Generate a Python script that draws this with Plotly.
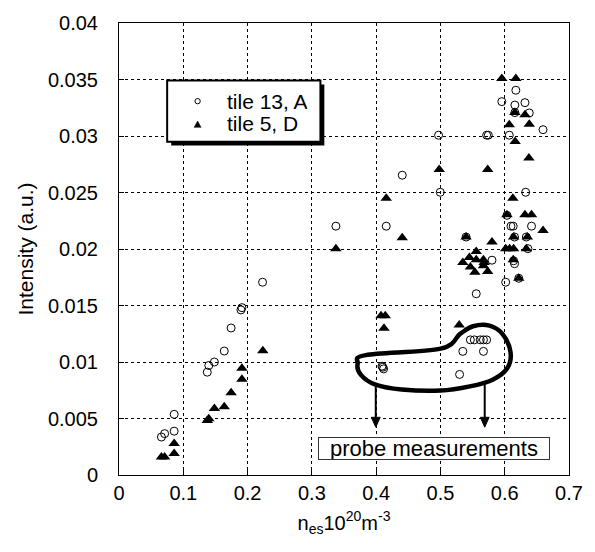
import plotly.graph_objects as go

# ---- data: tile 13, A (open circles) ----
tile13_x = [0.0858, 0.066, 0.071, 0.0858, 0.1373, 0.1397, 0.1484, 0.1637, 0.1744, 0.1897,
            0.1912, 0.2233, 0.3374, 0.4157, 0.4406, 0.4971, 0.4997, 0.5719, 0.5745, 0.5955,
            0.6173, 0.6158, 0.6315, 0.6382, 0.6071, 0.6596, 0.6326, 0.6132, 0.6097, 0.6417,
            0.6153, 0.6336, 0.6361, 0.6035, 0.5399, 0.5802, 0.6138, 0.6153, 0.6219, 0.6015,
            0.5557, 0.4091, 0.4116, 0.4104, 0.5466, 0.5527, 0.5619, 0.5669, 0.5719, 0.5348,
            0.5669, 0.5298, 0.6158]
tile13_y = [0.00537, 0.00336, 0.00366, 0.00388, 0.0091, 0.00969, 0.0100, 0.01097, 0.01301, 0.01461,
            0.01481, 0.01706, 0.02202, 0.02202, 0.02653, 0.03007, 0.02502, 0.03007, 0.03007, 0.03304,
            0.03405, 0.03274, 0.03295, 0.03204, 0.03007, 0.03056, 0.02502, 0.02202, 0.02202, 0.02202,
            0.02106, 0.02106, 0.02003, 0.02298, 0.02106, 0.01901, 0.01896, 0.0187, 0.01741, 0.01706,
            0.01604, 0.00963, 0.00939, 0.00954, 0.01196, 0.01196, 0.01196, 0.01196, 0.01196, 0.01094,
            0.01094, 0.0089, 0.03207]

# ---- data: tile 5, D (filled triangles) ----
tile5_x = [0.066, 0.071, 0.0858, 0.0858, 0.1373, 0.1397, 0.1484, 0.1637, 0.1744, 0.1912,
           0.1912, 0.2237, 0.3374, 0.4157, 0.4406, 0.4981, 0.5735, 0.5955, 0.6173, 0.6158,
           0.6315, 0.6071, 0.6382, 0.6162, 0.6376, 0.6127, 0.6035, 0.6315, 0.6417, 0.6596,
           0.6138, 0.6352, 0.5399, 0.5802, 0.6015, 0.6076, 0.6138, 0.6336, 0.6132, 0.6219,
           0.5557, 0.545, 0.5557, 0.5669, 0.5348, 0.568, 0.5466, 0.5669, 0.5536, 0.5735,
           0.4076, 0.4142, 0.4122, 0.5292]
tile5_y = [0.0016, 0.0016, 0.00191, 0.00278, 0.00482, 0.00497, 0.00589, 0.00604, 0.00727, 0.00847,
           0.00945, 0.0110, 0.02003, 0.02449, 0.0210, 0.02703, 0.02703, 0.03508, 0.03508, 0.03208,
           0.03187, 0.03099, 0.03105, 0.02951, 0.02805, 0.02449, 0.02303, 0.02303, 0.02303, 0.02164,
           0.02106, 0.02106, 0.02106, 0.02062, 0.02003, 0.02003, 0.02003, 0.02003, 0.01905, 0.01741,
           0.01977, 0.01925, 0.01905, 0.01905, 0.01881, 0.01881, 0.0184, 0.01852, 0.01794, 0.0180,
           0.01409, 0.01409, 0.01298, 0.01327]

# ---- axis ticks ----
x_ticks = [0, 0.1, 0.2, 0.3, 0.4, 0.5, 0.6, 0.7]
x_tick_labels = ["0", "0.1", "0.2", "0.3", "0.4", "0.5", "0.6", "0.7"]
y_ticks = [0, 0.005, 0.01, 0.015, 0.02, 0.025, 0.03, 0.035, 0.04]
y_tick_labels = ["0", "0.005", "0.01", "0.015", "0.02", "0.025", "0.03", "0.035", "0.04"]

# ---- annotation outline (probe measurement region) ----
blob_x = [0.3713, 0.3839, 0.5003, 0.5306, 0.5508, 0.5762, 0.5964, 0.6090, 0.6039, 0.5812,
          0.5458, 0.5003, 0.4396, 0.3991, 0.3763]
blob_y = [0.00987, 0.01061, 0.01118, 0.01249, 0.01316, 0.01322, 0.01249, 0.01089, 0.00944, 0.00843,
          0.00784, 0.00747, 0.00756, 0.00799, 0.00886]
arrow_x = [0.3994, 0.5689]
arrow_y_start = [0.00788, 0.00803]
arrow_y_end = [0.00423, 0.00423]

FONT = "Liberation Sans, Arial, Helvetica, sans-serif"

# plot-area geometry (px) used to size decorations
PLOT_W, PLOT_H = 458, 457
X_RANGE, Y_RANGE = 0.7, 0.04


def closed_spline_path(xs, ys):
    n = len(xs)
    pts = list(zip(xs, ys))
    d = f"M {pts[0][0]},{pts[0][1]}"
    for i in range(n):
        p0 = pts[(i - 1) % n]
        p1 = pts[i]
        p2 = pts[(i + 1) % n]
        p3 = pts[(i + 2) % n]
        c1 = (p1[0] + (p2[0] - p0[0]) / 6, p1[1] + (p2[1] - p0[1]) / 6)
        c2 = (p2[0] - (p3[0] - p1[0]) / 6, p2[1] - (p3[1] - p1[1]) / 6)
        d += f" C {c1[0]},{c1[1]} {c2[0]},{c2[1]} {p2[0]},{p2[1]}"
    return d + " Z"


fig = go.Figure()
fig.add_trace(go.Scatter(
    x=tile13_x, y=tile13_y, mode="markers", name="tile 13, A",
    marker=dict(symbol="circle-open", size=8, color="black", line=dict(width=1, color="black")),
))
fig.add_trace(go.Scatter(
    x=tile5_x, y=tile5_y, mode="markers", name="tile 5, D",
    marker=dict(symbol="triangle-up", size=10, color="black", line=dict(width=0)),
))

shapes = [
    dict(type="path", xref="x", yref="y", path=closed_spline_path(blob_x, blob_y),
         line=dict(color="black", width=4.5), fillcolor="rgba(0,0,0,0)", layer="above"),
    # legend shadow and box
    dict(type="rect", xref="paper", yref="paper", x0=0.116, x1=0.4563, y0=0.729, y1=0.864,
         fillcolor="black", line=dict(width=0), layer="above"),
    dict(type="rect", xref="paper", yref="paper", x0=0.107, x1=0.4476, y0=0.7374, y1=0.873,
         fillcolor="white", line=dict(color="black", width=2), layer="above"),
    # legend symbols
    dict(type="circle", xref="paper", yref="paper", x0=0.1688, x1=0.1806, y0=0.8212, y1=0.8330,
         line=dict(color="black", width=1), fillcolor="white", layer="above"),
    dict(type="path", xref="paper", yref="paper",
         path="M 0.1670,0.7691 L 0.1824,0.7691 L 0.1747,0.7830 Z",
         line=dict(color="black", width=0.5), fillcolor="black", layer="above"),
]

# arrows (shaft + filled head)
head_hw = 4.5 / PLOT_W * X_RANGE
head_len = 10 / PLOT_H * Y_RANGE
for ax_, ys_, ye_ in zip(arrow_x, arrow_y_start, arrow_y_end):
    shapes.append(dict(type="line", xref="x", yref="y", x0=ax_, x1=ax_, y0=ys_, y1=ye_ + head_len,
                       line=dict(color="black", width=2), layer="above"))
    shapes.append(dict(type="path", xref="x", yref="y",
                       path=f"M {ax_ - head_hw},{ye_ + head_len} L {ax_ + head_hw},{ye_ + head_len} L {ax_},{ye_} Z",
                       line=dict(color="black", width=1), fillcolor="black", layer="above"))

annotations = [
    dict(x=0.4905, y=0.00231, xref="x", yref="y", text="probe measurements", showarrow=False,
         font=dict(family=FONT, size=22, color="black"), bgcolor="white",
         bordercolor="#333", borderwidth=1, borderpad=0, width=230, height=21),
    dict(x=0.2358, y=0.8271, xref="paper", yref="paper", text="tile 13, A", showarrow=False,
         xanchor="left", yanchor="middle", height=21, font=dict(family=FONT, size=21, color="black")),
    dict(x=0.2358, y=0.7779, xref="paper", yref="paper", text="tile 5, D", showarrow=False,
         xanchor="left", yanchor="middle", height=21, font=dict(family=FONT, size=21, color="black")),
]

axis_common = dict(
    showline=True, linecolor="black", linewidth=1, mirror=True,
    showgrid=True, gridcolor="black", griddash="dot", gridwidth=1,
    ticks="inside", ticklen=5, tickcolor="black", zeroline=False,
    tickfont=dict(family=FONT, size=20, color="black"),
)

fig.update_layout(
    width=595, height=552,
    margin=dict(l=119, r=18, t=18, b=77),
    paper_bgcolor="white", plot_bgcolor="white",
    showlegend=False,
    shapes=shapes, annotations=annotations,
    xaxis=dict(range=[0, 0.7], tickvals=x_ticks, ticktext=x_tick_labels,
               ticklabelstandoff=0,
               title=dict(text="n<sub>es</sub>10<sup>20</sup>m<sup>-3</sup>",
                          font=dict(family=FONT, size=20, color="black"), standoff=12),
               **axis_common),
    yaxis=dict(range=[0, 0.04], tickvals=y_ticks, ticktext=y_tick_labels,
               ticklabelstandoff=16,
               title=dict(text="Intensity (a.u.)",
                          font=dict(family=FONT, size=21, color="black"), standoff=8),
               **axis_common),
)

fig.write_html("out.html", config={"displayModeBar": False},
               post_script="document.body.style.margin='0';document.body.style.overflow='hidden';")
